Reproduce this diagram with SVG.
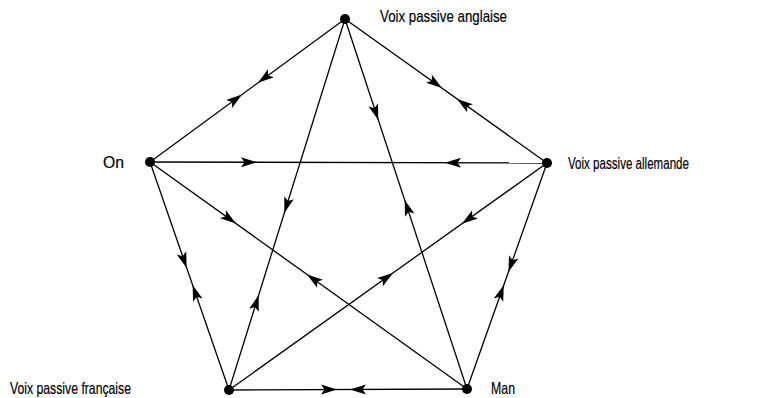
<svg xmlns="http://www.w3.org/2000/svg" xmlns:xlink="http://www.w3.org/1999/xlink" width="771" height="398" viewBox="0 0 771 398">
<style>
.edge{stroke:#000;stroke-width:1.3;fill:none}
.node{fill:#000}
.lbl{font-family:"Liberation Sans",Arial,sans-serif;font-size:17px;fill:#000;stroke:#000;stroke-width:0.2}
.ah{fill:#000}
</style>
<defs>
<path id="ah" class="ah" d="M0,0 L-16,-5 L-12.5,0 L-16,5 Z"/>
</defs>
<rect width="771" height="398" fill="#fff"/>
<g id="connectors">
<g id="e-A-B"><line class="edge" x1="345" y1="19" x2="150" y2="162"/>
<use xlink:href="#ah" transform="translate(258,82.8) rotate(143.75)"/>
<use xlink:href="#ah" transform="translate(242,94.5) rotate(-36.25)"/></g>
<g id="e-A-C"><line class="edge" x1="345" y1="19" x2="547" y2="163"/>
<use xlink:href="#ah" transform="translate(442,88) rotate(35.5)"/>
<use xlink:href="#ah" transform="translate(457,99) rotate(215.5)"/></g>
<g id="e-B-C"><line class="edge" x1="150" y1="162" x2="547" y2="163"/>
<use xlink:href="#ah" transform="translate(257,162.3) rotate(0)"/>
<use xlink:href="#ah" transform="translate(445,162.7) rotate(180)"/></g>
<g id="e-B-D"><line class="edge" x1="150" y1="162" x2="229" y2="390"/>
<use xlink:href="#ah" transform="translate(186.7,268) rotate(70.9)"/>
<use xlink:href="#ah" transform="translate(192.6,285) rotate(250.9)"/></g>
<g id="e-C-E"><line class="edge" x1="547" y1="163" x2="467" y2="389"/>
<use xlink:href="#ah" transform="translate(508.4,272) rotate(109.5)"/>
<use xlink:href="#ah" transform="translate(503.8,285) rotate(-70.5)"/></g>
<g id="e-D-E"><line class="edge" x1="229" y1="390" x2="467" y2="389"/>
<use xlink:href="#ah" transform="translate(337,389.6) rotate(0)"/>
<use xlink:href="#ah" transform="translate(350,389.5) rotate(180)"/></g>
<g id="e-A-D"><line class="edge" x1="345" y1="19" x2="229" y2="390"/>
<use xlink:href="#ah" transform="translate(284.3,213) rotate(107.4)"/>
<use xlink:href="#ah" transform="translate(258.7,295) rotate(-72.6)"/></g>
<g id="e-A-E"><line class="edge" x1="345" y1="19" x2="467" y2="389"/>
<use xlink:href="#ah" transform="translate(378.3,120) rotate(71.7)"/>
<use xlink:href="#ah" transform="translate(404.7,200) rotate(-108.3)"/></g>
<g id="e-B-E"><line class="edge" x1="150" y1="162" x2="467" y2="389"/>
<use xlink:href="#ah" transform="translate(236,223.6) rotate(35.6)"/>
<use xlink:href="#ah" transform="translate(307,274.4) rotate(215.6)"/></g>
<g id="e-C-D"><line class="edge" x1="547" y1="163" x2="229" y2="390"/>
<use xlink:href="#ah" transform="translate(462,223.7) rotate(144.5)"/>
<use xlink:href="#ah" transform="translate(393,272.9) rotate(-35.5)"/></g>
</g>
<g id="node-anglaise"><circle class="node" cx="345" cy="19" r="5"/>
<text class="lbl" x="380" y="22" textLength="127" lengthAdjust="spacingAndGlyphs">Voix passive anglaise</text></g>
<g id="node-on"><circle class="node" cx="150" cy="162" r="5"/>
<text class="lbl" x="103" y="168" textLength="21" lengthAdjust="spacingAndGlyphs">On</text></g>
<g id="node-allemande"><circle class="node" cx="547" cy="163" r="5"/>
<text class="lbl" x="568" y="169" textLength="121" lengthAdjust="spacingAndGlyphs">Voix passive allemande</text></g>
<g id="node-francaise"><circle class="node" cx="229" cy="390" r="5"/>
<text class="lbl" x="10" y="394" textLength="121" lengthAdjust="spacingAndGlyphs">Voix passive française</text></g>
<g id="node-man"><circle class="node" cx="467" cy="389" r="5"/>
<text class="lbl" x="491" y="394" textLength="24" lengthAdjust="spacingAndGlyphs">Man</text></g>
</svg>
